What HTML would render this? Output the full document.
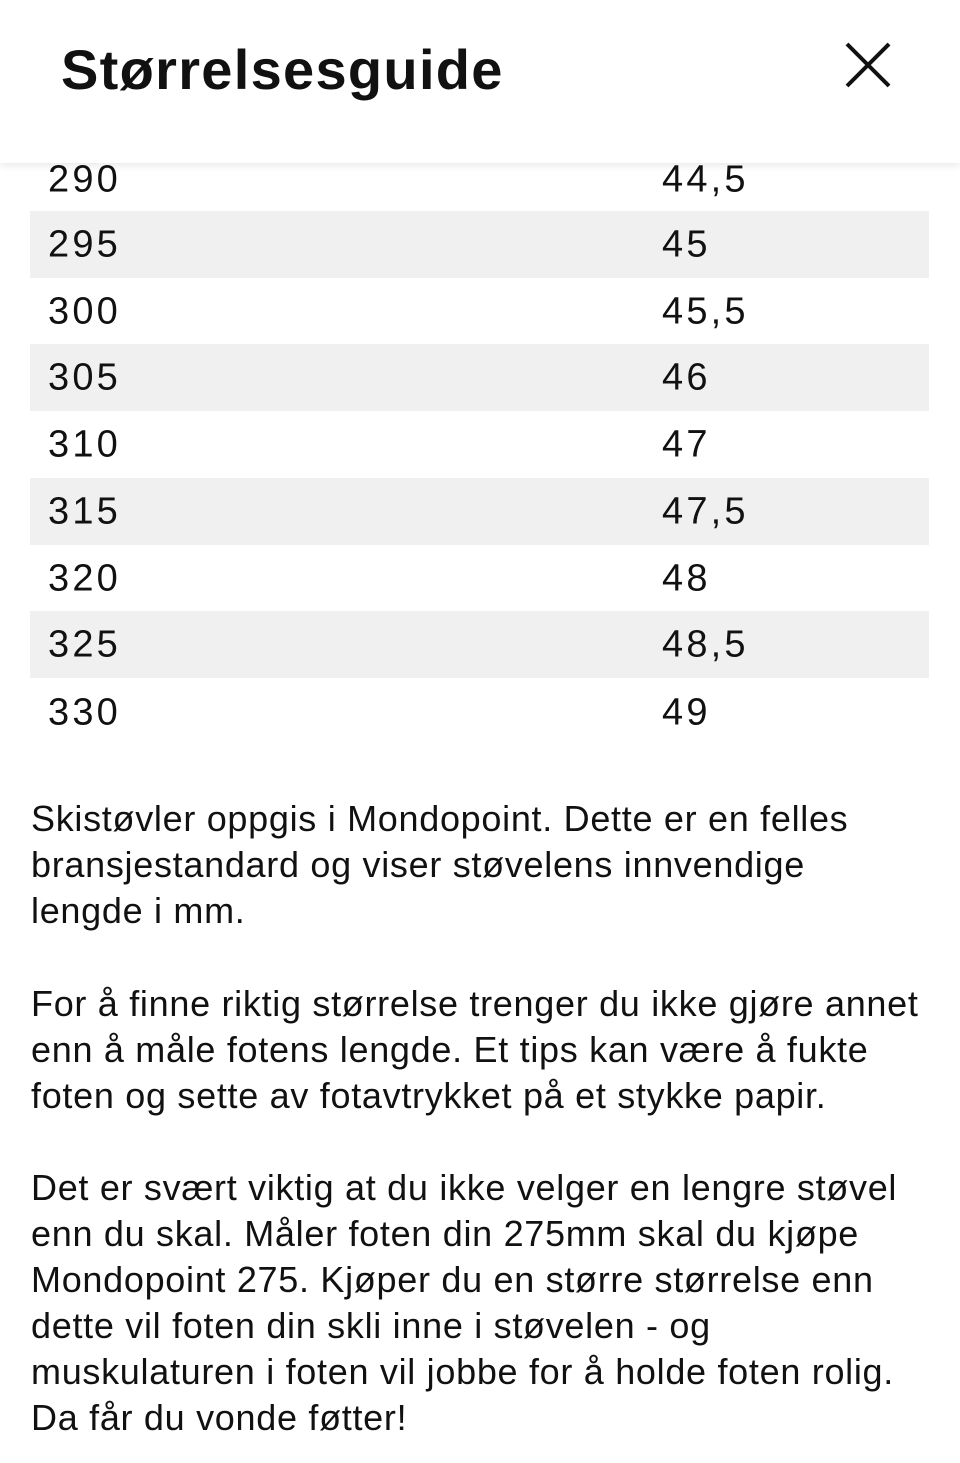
<!DOCTYPE html>
<html><head><meta charset="utf-8"><style>
html,body{margin:0;padding:0;background:#fff;}
body{width:960px;height:1463px;position:relative;overflow:hidden;font-family:"Liberation Sans",sans-serif;color:#111;}
.hdr{position:absolute;left:0;top:0;width:960px;height:163px;background:#fff;box-shadow:0 2px 8px rgba(0,0,0,0.10);z-index:2;}
.title{position:absolute;left:61px;top:37px;font-size:56px;font-weight:bold;letter-spacing:1.3px;}
.x{position:absolute;left:845px;top:42px;width:46px;height:46px;}
.row{position:absolute;left:30px;width:899px;height:67px;font-size:38px;letter-spacing:3.2px;}
.row span{position:absolute;top:50%;transform:translateY(-50%);}
.a{left:18px}.b{left:632px}
.s{background:#f0f0f0;}
.p{position:absolute;left:31px;font-size:36px;letter-spacing:0.7px;line-height:46px;white-space:nowrap;}
</style></head><body>
<div class="hdr"><div class="title">Størrelsesguide</div>
<svg class="x" viewBox="0 0 46 46"><path d="M2 2L44 44M44 2L2 44" stroke="#111" stroke-width="4"/></svg></div>
<div class="row" style="top:146px"><span class="a">290</span><span class="b">44,5</span></div>
<div class="row s" style="top:211px"><span class="a">295</span><span class="b">45</span></div>
<div class="row" style="top:278px"><span class="a">300</span><span class="b">45,5</span></div>
<div class="row s" style="top:344px"><span class="a">305</span><span class="b">46</span></div>
<div class="row" style="top:411px"><span class="a">310</span><span class="b">47</span></div>
<div class="row s" style="top:478px"><span class="a">315</span><span class="b">47,5</span></div>
<div class="row" style="top:545px"><span class="a">320</span><span class="b">48</span></div>
<div class="row s" style="top:611px"><span class="a">325</span><span class="b">48,5</span></div>
<div class="row" style="top:679px"><span class="a">330</span><span class="b">49</span></div>
<div class="p" style="top:796px">Skistøvler oppgis i Mondopoint. Dette er en felles<br>bransjestandard og viser støvelens innvendige<br>lengde i mm.</div>
<div class="p" style="top:981px">For å finne riktig størrelse trenger du ikke gjøre annet<br>enn å måle fotens lengde. Et tips kan være å fukte<br>foten og sette av fotavtrykket på et stykke papir.</div>
<div class="p" style="top:1165px">Det er svært viktig at du ikke velger en lengre støvel<br>enn du skal. Måler foten din 275mm skal du kjøpe<br>Mondopoint 275. Kjøper du en større størrelse enn<br>dette vil foten din skli inne i støvelen - og<br>muskulaturen i foten vil jobbe for å holde foten rolig.<br>Da får du vonde føtter!</div>
</body></html>
